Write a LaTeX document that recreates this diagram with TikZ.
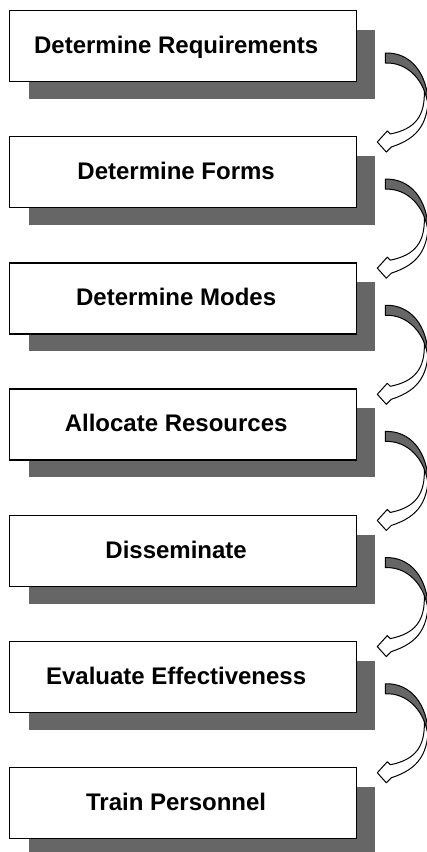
\documentclass[tikz,border=0pt]{standalone}
\usepackage{fontspec}
\setmainfont{Liberation Sans}
\usetikzlibrary{calc}
\definecolor{shade}{HTML}{666666}
\tikzset{
  stepbox/.style={draw=black, line width=1.3pt, fill=white, minimum width=347pt, minimum height=71pt, inner sep=0pt, anchor=north west},
  steplabel/.style={font=\fontsize{24}{28}\selectfont\bfseries, anchor=base, inner sep=0pt},
  shadowfill/.style={fill=shade},
  arrowline/.style={draw=black, line width=1pt, line join=round}
}
\begin{document}
\begin{tikzpicture}[x=1pt,y=-1pt]
\clip (0,0) rectangle (427,852);
\fill[white] (0,0) rectangle (427,852);
\foreach \i/\t in {1/Determine Requirements,2/Determine Forms,3/Determine Modes,4/Allocate Resources,5/Disseminate,6/Evaluate Effectiveness,7/Train Personnel}{
  \pgfmathsetmacro{\T}{10+126.15*(\i-1)}
  \coordinate (c\i) at (9,\T);
  \fill[shadowfill] ($(c\i)+(20,20)$) rectangle ($(c\i)+(366,89)$);
  \node[stepbox] (b\i) at (c\i) {};
  \node[steplabel] (l\i) at ($(b\i.north)+(-7,43.5)$) {\t};
}
\foreach \i in {1,...,6}{
  \begin{scope}[shift={(b\i.north east)}]
    \filldraw[arrowline, fill=white] (71,80) .. controls (72,112) and (62,128) .. (34,137)
      -- (29,142) -- (20,132) -- (30,121) -- (33,124)
      .. controls (58,119) and (68,106) .. (67,80) -- cycle;
    \filldraw[arrowline, fill=shade] (28,43) .. controls (52,42) and (71,62) .. (71,97)
      .. controls (68,70) and (50,52) .. (28,53) -- cycle;
  \end{scope}
}
\end{tikzpicture}
\end{document}
